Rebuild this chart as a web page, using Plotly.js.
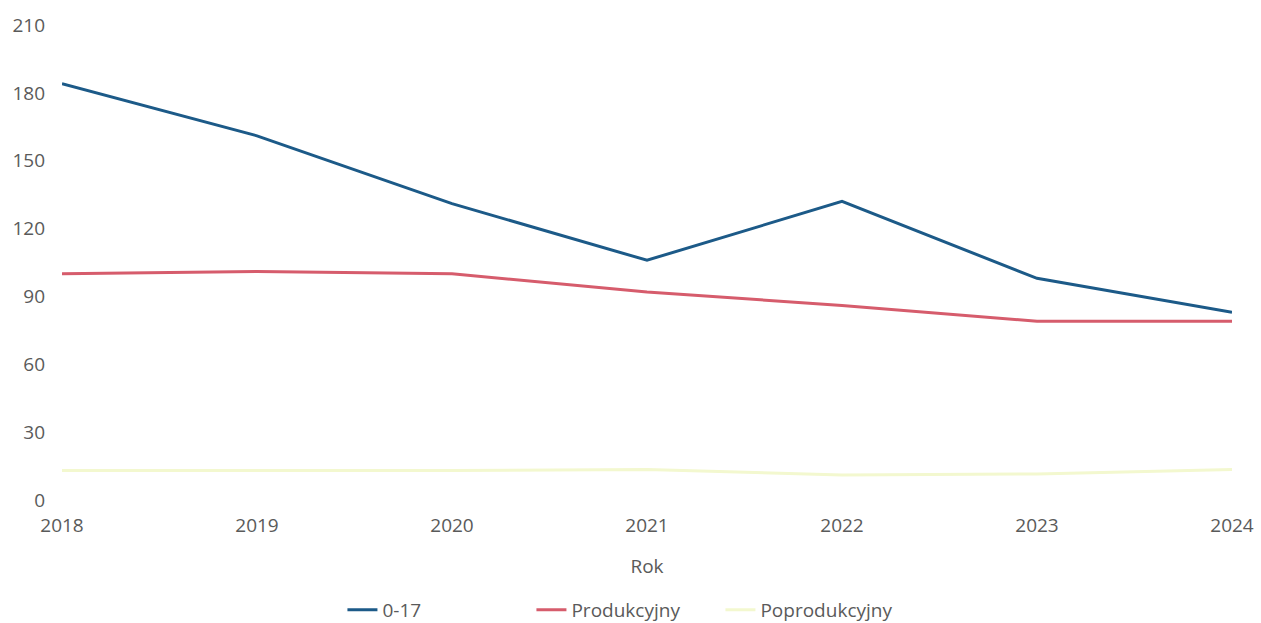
<!DOCTYPE html>
<html>
<head>
<meta charset="utf-8">
<script src="https://cdn.plot.ly/plotly-3.0.1.min.js"></script>
<style>html,body{margin:0;padding:0;background:#fff;}#chart{width:1261px;height:623px;}</style>
</head>
<body>
<div id="chart"></div>
<script>
const years = [2018, 2019, 2020, 2021, 2022, 2023, 2024];
const seriesNames = ["0-17", "Produkcyjny", "Poprodukcyjny"];
const values017 = [184, 161, 131, 106, 132, 98, 83];
const valuesProdukcyjny = [100, 101, 100, 92, 86, 79, 79];
const valuesPoprodukcyjny = [13, 13, 13, 13.5, 11, 11.5, 13.5];
const yTicks = [0, 30, 60, 90, 120, 150, 180, 210];
const colors = ["#1c5a88", "#d65c6c", "#f3f8cf"];

const traces = [values017, valuesProdukcyjny, valuesPoprodukcyjny].map((v, i) => ({
  x: years, y: v, name: seriesNames[i], type: "scatter", mode: "lines",
  line: {color: colors[i], width: 3}
}));

const txt = "#5a5a5a";
const layout = {
  width: 1261, height: 623,
  margin: {l: 62, r: 29, t: 25, b: 123, autoexpand: false},
  paper_bgcolor: "#fff", plot_bgcolor: "#fff",
  font: {family: "Open Sans, sans-serif", size: 19, color: txt},
  showlegend: true,
  legend: {orientation: "h", x: 0.482, xanchor: "center", yref: "container", y: 0.021, yanchor: "middle",
    font: {size: 19, color: txt}, itemwidth: 30, traceorder: "normal",
    entrywidth: 144, entrywidthmode: "pixels"},
  xaxis: {range: [2018, 2024], tickvals: years, ticktext: years.map(String),
    showgrid: false, zeroline: false, showline: false, ticks: "", ticklen: 0,
    ticklabelstandoff: 12, automargin: false,
    title: {text: "Rok", font: {size: 19, color: txt}, standoff: 22},
    tickfont: {size: 19, color: txt}},
  yaxis: {range: [0, 210], tickvals: yTicks, showgrid: false, zeroline: false,
    showline: false, ticks: "", ticklabelstandoff: 16, automargin: false,
    tickfont: {size: 19, color: txt}}
};
Plotly.newPlot("chart", traces, layout, {displayModeBar: false, staticPlot: true});
</script>
</body>
</html>
